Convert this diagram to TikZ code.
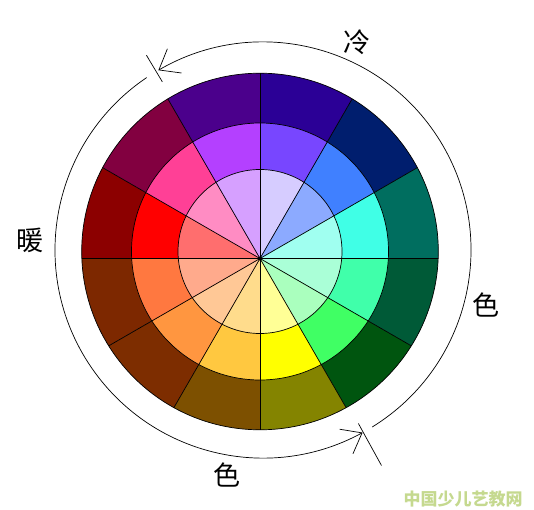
\documentclass[tikz,border=0pt]{standalone}
\usepackage{fontspec}
\newfontfamily\cjk{Noto Sans CJK SC}
\usetikzlibrary{arrows.meta}
\definecolor{o1}{HTML}{2B0096}\definecolor{m1}{HTML}{7846FF}\definecolor{i1}{HTML}{D6CCFF}
\definecolor{o2}{HTML}{001E6E}\definecolor{m2}{HTML}{4080FF}\definecolor{i2}{HTML}{8CAAFF}
\definecolor{o3}{HTML}{006E5F}\definecolor{m3}{HTML}{40FFE6}\definecolor{i3}{HTML}{A0FFF0}
\definecolor{o4}{HTML}{005A37}\definecolor{m4}{HTML}{40FFAA}\definecolor{i4}{HTML}{AAFFD7}
\definecolor{o5}{HTML}{00550F}\definecolor{m5}{HTML}{40FF64}\definecolor{i5}{HTML}{AAFFBE}
\definecolor{o6}{HTML}{848400}\definecolor{m6}{HTML}{FFFF00}\definecolor{i6}{HTML}{FFFF96}
\definecolor{o7}{HTML}{7D5000}\definecolor{m7}{HTML}{FFC840}\definecolor{i7}{HTML}{FFDC8C}
\definecolor{o8}{HTML}{7D2D00}\definecolor{m8}{HTML}{FF9640}\definecolor{i8}{HTML}{FFC896}
\definecolor{o9}{HTML}{7D2800}\definecolor{m9}{HTML}{FF7840}\definecolor{i9}{HTML}{FFAA8C}
\definecolor{o10}{HTML}{8C0000}\definecolor{m10}{HTML}{FF0000}\definecolor{i10}{HTML}{FF6E6E}
\definecolor{o11}{HTML}{820040}\definecolor{m11}{HTML}{FF4096}\definecolor{i11}{HTML}{FF8CC3}
\definecolor{o12}{HTML}{4B008C}\definecolor{m12}{HTML}{B440FF}\definecolor{i12}{HTML}{D6A0FF}
\definecolor{wm}{HTML}{C5D98F}
\begin{document}
\begin{tikzpicture}[x=1pt,y=1pt,
  lab/.style={font=\cjk\fontsize{27}{27}\selectfont, inner sep=0pt},
  ring/.style={draw=black, line width=0.7pt},
  guide/.style={line width=0.7pt},
  tipend/.style={-{Straight Barb[length=18pt,width=28pt]}}]
\useasboundingbox (0,0) rectangle (534,509);
\fill[white] (0,0) rectangle (534,509);
\coordinate (C) at (260,257.5);
\coordinate (P) at (260,250.5);
\coordinate (O) at (263,259);
\foreach \a/\k in {60/1,30/2,0/3,-30/4,-60/5,-90/6,-120/7,-150/8,-180/9,150/10,120/11,90/12} {
  \begin{scope}
    \clip (P) -- ([shift={(\a:300)}]P) -- ([shift={(\a+15:300)}]P) -- ([shift={(\a+30:300)}]P) -- cycle;
    \fill[o\k] (C) circle (178.3);
    \fill[m\k] (C) circle (128.5);
    \fill[i\k] (C) circle (82);
  \end{scope}
}
\begin{scope}
  \clip (C) circle (178.3);
  \foreach \a in {0,30,...,330} \draw[line width=0.7pt] (P) -- ++(\a:220);
\end{scope}
\draw[ring] (C) circle (178.3);
\draw[ring] (C) circle (128.5);
\draw[ring] (C) circle (82);
\fill (P) circle (2);
% guide arcs
\draw[guide, tipend] ([shift={(124:208)}]O) arc[start angle=124, end angle=298.6, radius=208];
\draw[guide, tipend] ([shift={(-58.3:208)}]O) arc[start angle=-58.3, end angle=120.2, radius=208];
\draw[guide] ([shift={(120.9:196)}]O) -- ([shift={(120.9:227)}]O);
\draw[guide] ([shift={(-61.2:198)}]O) -- ([shift={(-61.2:246)}]O);
% labels
\node[lab] (leng) at (357,467) {冷};
\node[lab] (nuan) at (30,268.5) {暖};
\node[lab] (se1) at (486,204) {色};
\node[lab] (se2) at (227,34) {色};
\node[font=\cjk\bfseries\fontsize{17}{17}\selectfont, text=wm, inner sep=0pt] (wmk) at (463,10) {中国少儿艺教网};
\end{tikzpicture}
\end{document}
